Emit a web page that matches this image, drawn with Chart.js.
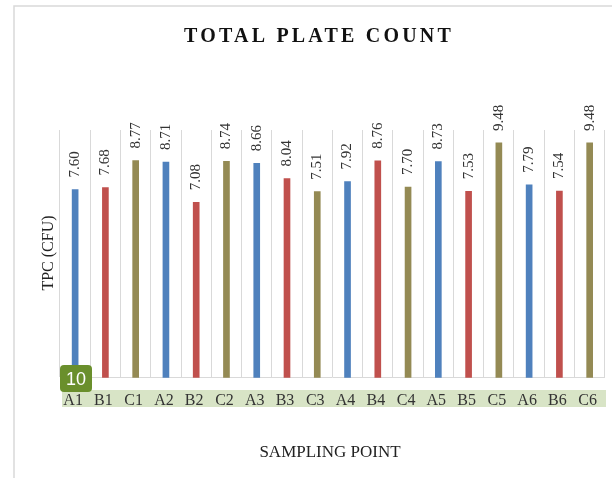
<!DOCTYPE html>
<html>
<head>
<meta charset="utf-8">
<script src="https://cdn.jsdelivr.net/npm/chart.js@4"></script>
<style>
  html, body { margin: 0; padding: 0; background: #ffffff; }
  #wrap { width: 612px; height: 478px; position: relative; }
</style>
</head>
<body>
<div id="wrap"><canvas id="c" width="612" height="478"></canvas></div>
<script>
// ---- data ----
const categories = ['A1','B1','C1','A2','B2','C2','A3','B3','C3','A4','B4','C4','A5','B5','C5','A6','B6','C6'];
const tpcValues  = [7.60, 7.68, 8.77, 8.71, 7.08, 8.74, 8.66, 8.04, 7.51, 7.92, 8.76, 7.70, 8.73, 7.53, 9.48, 7.79, 7.54, 9.48];
const yTicks = [0, 10];
const chartTitle = 'TOTAL PLATE COUNT';
const yTitle = 'TPC (CFU)';
const xTitle = 'SAMPLING POINT';
const badgeText = '10';

// ---- styles ----
const groupColors = { A: '#4f81bd', B: '#c0504d', C: '#948a54' };
const barColors = categories.map(c => groupColors[c.charAt(0)]);
const SERIF = "'Liberation Serif', 'Times New Roman', serif";

const decor = {
  id: 'decor',
  beforeDraw(chart) {
    const ctx = chart.ctx;
    ctx.save();
    // frame
    ctx.strokeStyle = '#d9d9d9';
    ctx.lineWidth = 1.5;
    ctx.beginPath();
    ctx.moveTo(14, 480);
    ctx.lineTo(14, 6);
    ctx.lineTo(620, 6);
    ctx.stroke();
    // label band
    ctx.fillStyle = '#d8e4c6';
    ctx.fillRect(62, 390, 544, 17);
    // title
    ctx.fillStyle = '#111111';
    ctx.font = 'bold 20px ' + SERIF;
    ctx.letterSpacing = '3.2px';
    ctx.textAlign = 'center';
    ctx.textBaseline = 'alphabetic';
    ctx.fillText(chartTitle, 319, 42);
    ctx.letterSpacing = '0px';
    // x title
    ctx.fillStyle = '#222222';
    ctx.font = '17px ' + SERIF;
    ctx.textBaseline = 'middle';
    ctx.fillText(xTitle, 330, 453);
    // y title
    ctx.translate(49, 253);
    ctx.rotate(-Math.PI / 2);
    ctx.font = '16px ' + SERIF;
    ctx.fillText(yTitle, 0, 0);
    ctx.restore();
  },
  afterDatasetsDraw(chart) {
    const ctx = chart.ctx;
    const meta = chart.getDatasetMeta(0);
    ctx.save();
    ctx.fillStyle = '#333333';
    ctx.font = '15px ' + SERIF;
    ctx.textAlign = 'left';
    ctx.textBaseline = 'middle';
    meta.data.forEach((bar, i) => {
      ctx.save();
      ctx.translate(bar.x, bar.y - 12);
      ctx.rotate(-Math.PI / 2);
      ctx.fillText(tpcValues[i].toFixed(2), 0, 0);
      ctx.restore();
    });
    ctx.restore();
  },
  afterDraw(chart) {
    const ctx = chart.ctx;
    ctx.save();
    ctx.fillStyle = '#6a8f2c';
    ctx.beginPath();
    ctx.roundRect(60, 365, 32, 27, 4);
    ctx.fill();
    ctx.fillStyle = '#ffffff';
    ctx.font = "18px 'Liberation Sans', Arial, sans-serif";
    ctx.textAlign = 'center';
    ctx.textBaseline = 'middle';
    ctx.fillText(badgeText, 76, 380);
    ctx.restore();
  }
};

new Chart(document.getElementById('c'), {
  type: 'bar',
  data: {
    labels: categories,
    datasets: [{
      label: 'TPC',
      data: tpcValues,
      backgroundColor: barColors,
      borderWidth: 0,
      barThickness: 6
    }]
  },
  options: {
    responsive: false,
    animation: false,
    devicePixelRatio: 1,
    layout: { padding: { left: 60, right: 0, top: 130, bottom: 55 } },
    plugins: { legend: { display: false }, tooltip: { enabled: false }, title: { display: false } },
    scales: {
      x: {
        offset: true,
        grid: { display: true, offset: true, color: '#d9d9d9', lineWidth: 1, drawTicks: false },
        border: { display: true, color: '#d9d9d9', width: 1 },
        ticks: { color: '#333333', font: { family: SERIF, size: 16 }, padding: 13, maxRotation: 0, autoSkip: false, labelOffset: -2 }
      },
      y: {
        display: false,
        min: yTicks[0],
        max: yTicks[1]
      }
    }
  },
  plugins: [decor]
});
</script>
</body>
</html>
